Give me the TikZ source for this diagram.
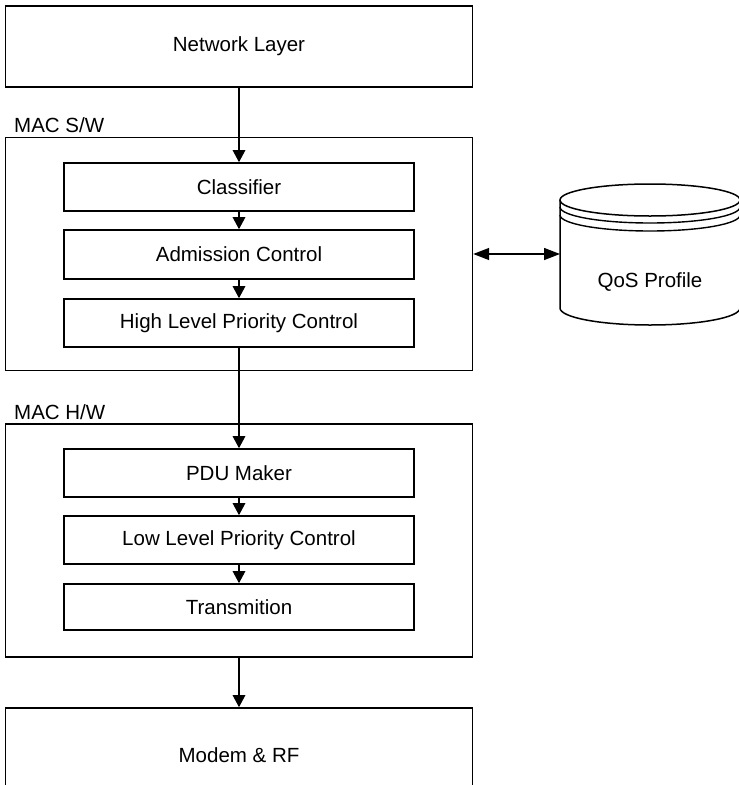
\documentclass[tikz,border=0pt]{standalone}
\usepackage{fontspec}
\setmainfont{Liberation Sans}
\usetikzlibrary{arrows.meta}
\begin{document}
\begin{tikzpicture}[x=1pt,y=-1pt,
  every node/.style={font=\fontsize{20.5}{24}\selectfont},
  bigbox/.style={draw,line width=1.6pt,minimum width=467pt,inner sep=0pt},
  innerbox/.style={draw,line width=1.6pt,minimum width=350pt,inner sep=0pt},
  grpbox/.style={draw,line width=1.4pt,minimum width=467pt,inner sep=0pt},
  lbl/.style={anchor=base west,inner sep=0pt},
  conn/.style={line width=1.4pt,-{Triangle[length=12pt,width=12.5pt]}},
  dconn/.style={line width=1.4pt,{Triangle[length=16pt,width=12pt]}-{Triangle[length=16pt,width=12pt]}}
]
\useasboundingbox (0,0) rectangle (739,785);

% top and bottom layers
\node[bigbox,minimum height=81pt] (net) at (239,46.5) {Network Layer};
\node[bigbox,minimum height=94pt] (modem) at (239,755) {Modem \& RF};

% MAC S/W group
\node[grpbox,minimum height=233pt] (sw) at (239,254) {};
\node[lbl] (swl) at (14,132) {MAC S/W};
\node[innerbox,minimum height=48pt] (cls) at (239,187) {Classifier};
\node[innerbox,minimum height=49pt] (adm) at (239,254.5) {Admission Control};
\node[innerbox,minimum height=48pt] (hlp) at (239,323) {High Level Priority Control};

% MAC H/W group
\node[grpbox,minimum height=233pt] (hw) at (239,540.5) {};
\node[lbl] (hwl) at (14,419) {MAC H/W};
\node[innerbox,minimum height=48pt] (pdu) at (239,473) {PDU Maker};
\node[innerbox,minimum height=48pt] (llp) at (239,540) {Low Level Priority Control};
\node[innerbox,minimum height=46pt] (trn) at (239,607) {Transmition};

% QoS Profile cylinder
\draw[line width=1.5pt] (560,200) -- (560,308)
  arc[start angle=180,end angle=360,x radius=90pt,y radius=17pt] -- (740,200);
\draw[line width=1.5pt] (650,200) ellipse [x radius=90pt,y radius=16pt];
\draw[line width=1.4pt] (560,207) arc[start angle=180,end angle=360,x radius=90pt,y radius=16pt];
\draw[line width=1.4pt] (560,215) arc[start angle=180,end angle=360,x radius=90pt,y radius=16pt];
\node (qos) at (650,282) {QoS Profile};
\coordinate (qosw) at (560,254);

% connectors
\draw[conn] (net.south) -- (cls.north);
\draw[conn] (cls.south) -- (adm.north);
\draw[conn] (adm.south) -- (hlp.north);
\draw[conn] (hlp.south) -- (pdu.north);
\draw[conn] (pdu.south) -- (llp.north);
\draw[conn] (llp.south) -- (trn.north);
\draw[conn] (hw.south) -- (modem.north);
\draw[dconn] (sw.east) -- (qosw);
\end{tikzpicture}
\end{document}
